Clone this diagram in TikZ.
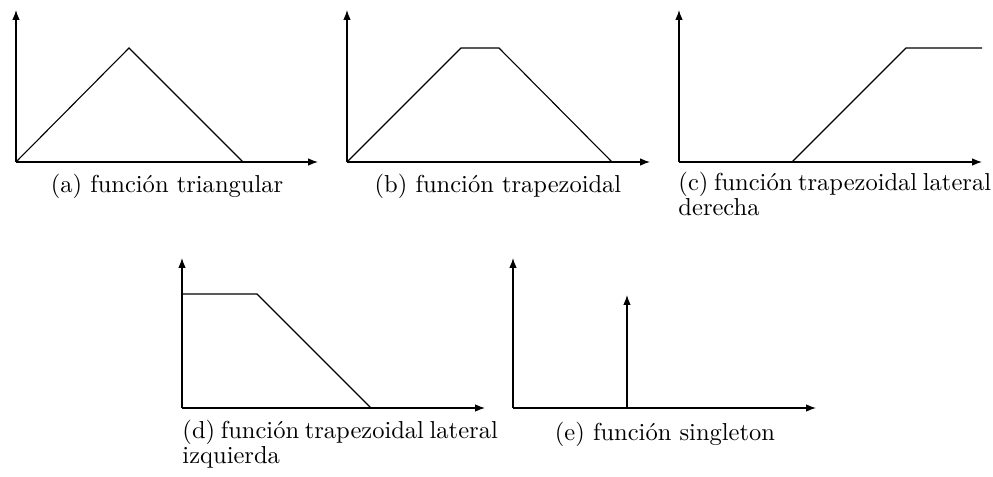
\documentclass[tikz,border=0pt]{standalone}
\usetikzlibrary{arrows.meta,positioning}

\begin{document}
\begin{tikzpicture}[x=0.408pt, y=-0.408pt,
        axis/.style={-{Latex[length=4pt,width=3pt]}, line width=0.45pt},
        curve/.style={line width=0.45pt, line join=miter},
        subcap/.style={font=\fontsize{10pt}{9.4pt}\selectfont, inner sep=0pt, align=left}
      ]
        \useasboundingbox (0,0) rectangle (993,477);

        % (a) triangular
        \coordinate (oa) at (16,162);
        \draw[axis] (oa) -- (16,10);
        \draw[axis] (oa) -- (318,162);
        \draw[curve] (oa) -- (129,48) -- (243,162);
        \node[subcap, anchor=base] (capa) at (167,193) {(a) función triangular};

        % (b) trapezoidal
        \coordinate (ob) at (347,162);
        \draw[axis] (ob) -- (347,10);
        \draw[axis] (ob) -- (650,162);
        \draw[curve] (ob) -- (461,48) -- (499,48) -- (612,162);
        \node[subcap, anchor=base] (capb) at (498,193) {(b) función trapezoidal};

        % (c) lateral derecha (base = last line)
        \coordinate (oc) at (679,162);
        \draw[axis] (oc) -- (679,10);
        \draw[axis] (oc) -- (982,162);
        \draw[curve] (792,162) -- (906,48) -- (982,48);
        \node[subcap, anchor=base west] (capc) at (678,216)
          {\spaceskip=2.3pt (c) función trapezoidal lateral\\derecha};

        % (d) lateral izquierda
        \coordinate (od) at (182,408);
        \draw[axis] (od) -- (182,258);
        \draw[axis] (od) -- (485,408);
        \draw[curve] (182,294) -- (257,294) -- (371,408);
        \node[subcap, anchor=base west] (capd) at (182,464)
          {\spaceskip=2.3pt (d) función trapezoidal lateral\\izquierda};

        % (e) singleton
        \coordinate (oe) at (513,408);
        \draw[axis] (oe) -- (513,258);
        \draw[axis] (oe) -- (816,408);
        \draw[axis] (627,408) -- (627,295);
        \node[subcap, anchor=base] (cape) at (665,441) {(e) función singleton};
      \end{tikzpicture}
\end{document}
